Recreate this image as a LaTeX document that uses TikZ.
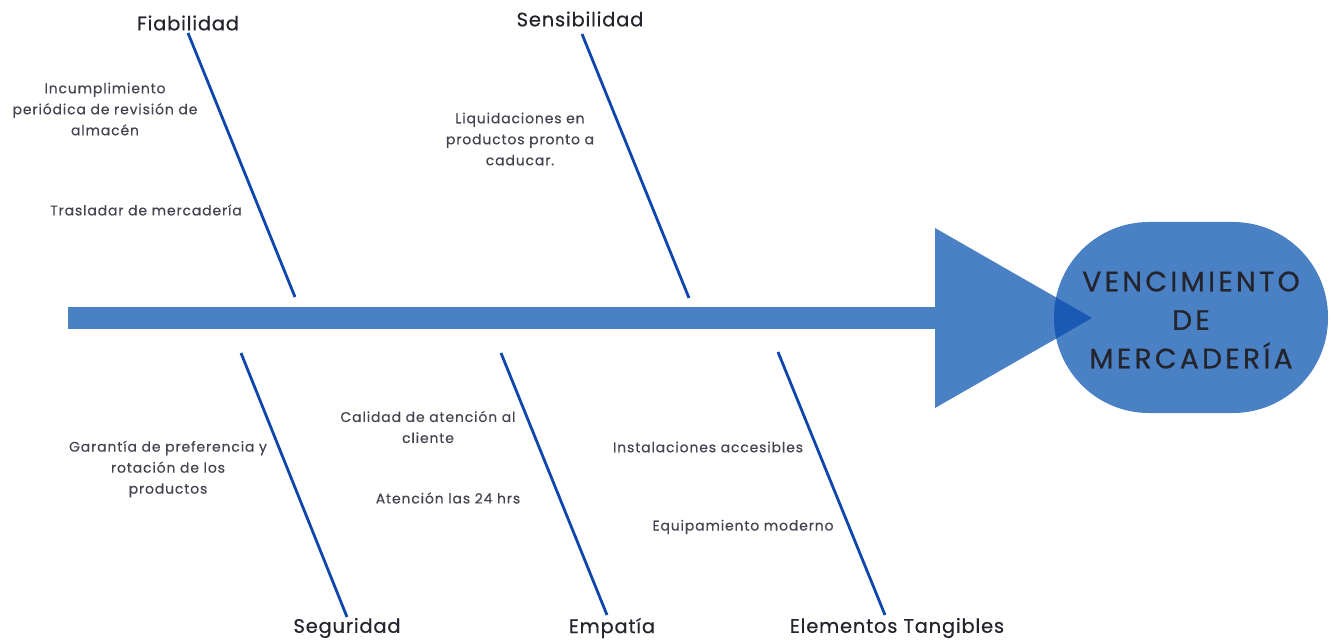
\documentclass[tikz,border=0pt]{standalone}
\usepackage{fontspec}
\setmainfont{Poppins}
\newfontfamily\headfont[LetterSpace=12,FakeBold=0.7]{Poppins}
\newfontfamily\catfont[LetterSpace=4,FakeBold=0.5]{Poppins}
\newfontfamily\causefont[LetterSpace=6,FakeBold=0.3]{Poppins}
\definecolor{fishblue}{RGB}{74,128,196}
\definecolor{overlapblue}{RGB}{26,90,181}
\definecolor{boneblue}{RGB}{14,70,172}
\definecolor{titletext}{RGB}{36,36,44}
\definecolor{smalltext}{RGB}{68,68,80}
\tikzset{
  bone/.style={draw=boneblue, line width=2.8pt},
  cat/.style={font=\catfont\fontsize{19.5}{22}\selectfont, text=titletext, inner sep=0pt},
  cause/.style={font=\causefont\fontsize{14}{21}\selectfont, text=smalltext, inner sep=0pt, align=center},
  headtxt/.style={font=\headfont\fontsize{28}{38.5}\selectfont, text=titletext, align=center, inner sep=0pt}
}
\begin{document}
\begin{tikzpicture}[x=1pt,y=-1pt]
\useasboundingbox (0,0) rectangle (1333,644);
% spine
\fill[fishblue] (68,307) rectangle (936,329);
% triangle
\fill[fishblue] (935,228) -- (1092,318) -- (935,408) -- cycle;
% head
\fill[fishblue, rounded corners=95pt] (1054,222) rectangle (1328,413);
\begin{scope}
  \clip[rounded corners=95pt] (1054,222) rectangle (1328,413);
  \fill[overlapblue] (935,228) -- (1092,318) -- (935,408) -- cycle;
\end{scope}
\node[headtxt] (head) at (1191,320) {VENCIMIENTO\\DE\\MERCADERÍA};

% category labels
\node[cat] (fia) at (188,23) {Fiabilidad};
\node[cat] (sen) at (580,19) {Sensibilidad};
\node[cat] (seg) at (347,628) {Seguridad};
\node[cat] (emp) at (612,628) {Empatía};
\node[cat] (ele) at (897,628) {Elementos Tangibles};

% bone endpoints
\coordinate (fiaA) at (188,33);
\coordinate (fiaB) at (295,297);
\coordinate (senA) at (582,34);
\coordinate (senB) at (689,298);
\coordinate (segA) at (241,353);
\coordinate (segB) at (347,617);
\coordinate (empA) at (501,353);
\coordinate (empB) at (607,615);
\coordinate (eleA) at (778,352);
\coordinate (eleB) at (885,615);
\draw[bone] (fiaA) -- (fiaB);
\draw[bone] (senA) -- (senB);
\draw[bone] (segA) -- (segB);
\draw[bone] (empA) -- (empB);
\draw[bone] (eleA) -- (eleB);

% causes
\node[cause] (c1) at (105,109) {Incumplimiento\\periódica de revisión de\\almacén};
\node[cause] (c2) at (146,210) {Trasladar de mercadería};
\node[cause] (c3) at (520,139) {Liquidaciones en\\productos pronto a\\caducar.};
\node[cause] (c4) at (168,469) {Garantía de preferencia y\\rotación de los\\productos};
\node[cause] (c5) at (428,427) {Calidad de atención al\\cliente};
\node[cause] (c6) at (448,498) {Atención las 24 hrs};
\node[cause] (c7) at (708,447) {Instalaciones accesibles};
\node[cause] (c8) at (743,527) {Equipamiento moderno};
\end{tikzpicture}
\end{document}
